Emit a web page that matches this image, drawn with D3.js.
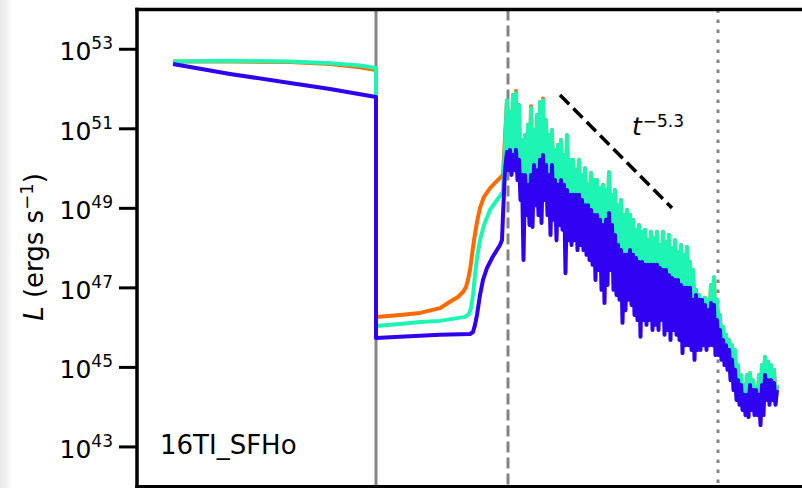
<!DOCTYPE html>
<html><head><meta charset="utf-8">
<script src="https://cdn.jsdelivr.net/npm/d3@7"></script>
<style>body{margin:0;background:#fff}svg{display:block}</style>
</head><body><svg id="c" width="802" height="488"></svg>
<script>
// x data: log10 of time (arbitrary units); y data: log10 of luminance (erg/s)
const yTickExps = [43, 45, 47, 49, 51, 53];
const panelLabel = "16TI_SFHo";
const slopeLabel = "−5.3";
const markerTimes = { solid: 1.195, dashed: 1.855, dotted: 2.905 };
const slopeGuide = [[2.115, 51.85], [2.675, 49.01]];

const orangeT = [0.18,0.465,0.765,0.965,1.115,1.195,1.195,1.315,1.415,1.515,1.565,1.605,1.63,1.645,1.655,1.665,1.675,1.685,1.70,1.715,1.735,1.765,1.80,1.83];
const orangeSmooth = [52.69,52.69,52.68,52.63,52.55,52.48,46.27,46.32,46.37,46.49,46.65,46.77,46.90,47.02,47.20,47.45,47.83,48.20,48.66,49.01,49.29,49.51,49.69,49.84];

const cyanT = [0.18,0.465,0.765,0.965,1.115,1.195,1.195,1.315,1.415,1.515,1.64,1.66,1.67,1.68,1.69,1.70,1.715,1.735,1.765,1.80,1.83];
const cyanSmooth = [52.69,52.71,52.69,52.65,52.59,52.53,46.04,46.09,46.14,46.17,46.27,46.34,46.49,46.82,47.32,47.75,48.20,48.58,48.96,49.21,49.41];

const blueT = [0.18,0.465,0.765,0.965,1.195,1.195,1.315,1.515,1.665,1.68,1.69,1.70,1.715,1.73,1.75,1.775,1.815,1.825,1.83,1.84];
const blueSmooth = [52.63,52.38,52.15,52.00,51.80,45.74,45.77,45.82,45.84,45.89,46.07,46.32,46.82,47.20,47.50,47.75,48.08,48.20,48.83,49.96];

// noisy phase: flicker peaks (on peakT) and troughs (on troughT), interleaved in time
const peakT = [1.85,1.865,1.88,1.895,1.91,1.925,1.94,1.955,1.97,1.985,2.0,2.015,2.03,2.045,2.06,2.075,2.09,2.105,2.12,2.135,2.15,2.165,2.18,2.195,2.21,2.225,2.24,2.255,2.27,2.285,2.3,2.315,2.33,2.345,2.36,2.375,2.39,2.405,2.42,2.435,2.45,2.465,2.48,2.495,2.51,2.525,2.54,2.555,2.57,2.585,2.6,2.615,2.63,2.645,2.66,2.675,2.69,2.705,2.72,2.735,2.75,2.765,2.78,2.795,2.81,2.825,2.84,2.855,2.87,2.885,2.9,2.915,2.93,2.945,2.96,2.975,2.99,3.005,3.02,3.035,3.05,3.065,3.08,3.095,3.11,3.125,3.14,3.155,3.17,3.185,3.2];
const troughT = [1.8575,1.8725,1.8875,1.9025,1.9175,1.9325,1.9475,1.9625,1.9775,1.9925,2.0075,2.0225,2.0375,2.0525,2.0675,2.0825,2.0975,2.1125,2.1275,2.1425,2.1575,2.1725,2.1875,2.2025,2.2175,2.2325,2.2475,2.2625,2.2775,2.2925,2.3075,2.3225,2.3375,2.3525,2.3675,2.3825,2.3975,2.4125,2.4275,2.4425,2.4575,2.4725,2.4875,2.5025,2.5175,2.5325,2.5475,2.5625,2.5775,2.5925,2.6075,2.6225,2.6375,2.6525,2.6675,2.6825,2.6975,2.7125,2.7275,2.7425,2.7575,2.7725,2.7875,2.8025,2.8175,2.8325,2.8475,2.8625,2.8775,2.8925,2.9075,2.9225,2.9375,2.9525,2.9675,2.9825,2.9975,3.0125,3.0275,3.0425,3.0575,3.0725,3.0875,3.1025,3.1175,3.1325,3.1475,3.1625,3.1775,3.1925];

const orangePeak = [
51.72,51.42,51.85,51.95,51.60,50.72,50.84,51.10,51.57,50.97,
51.35,51.67,51.76,51.22,50.84,50.97,50.47,50.59,50.72,50.34,
50.84,50.22,50.22,49.96,50.22,49.84,50.01,49.59,49.89,49.71,
49.71,49.51,49.59,49.46,49.91,49.34,49.46,49.08,49.21,48.83,
48.96,48.83,48.71,48.46,48.58,48.41,48.46,48.20,48.41,48.25,
48.41,48.08,48.41,48.15,48.33,48.00,48.20,47.90,48.08,47.83,
48.03,47.65,47.45,46.95,46.82,46.57,46.75,46.70,47.07,47.27,
46.70,46.32,46.02,45.82,45.69,45.56,45.44,45.06,44.81,44.56,
44.81,44.86,44.68,44.51,44.81,45.06,45.26,45.14,45.06,44.94,
44.56];
const orangeTrough = [
50.09,50.04,50.04,49.91,49.54,49.54,49.29,49.29,49.54,49.66,
49.66,49.91,49.79,49.54,49.54,49.41,49.29,49.29,49.29,49.16,
49.03,49.03,49.03,49.03,48.91,48.78,49.10,48.66,48.53,48.53,
48.41,48.28,48.28,48.41,48.28,48.03,47.78,47.65,47.53,47.53,
47.53,47.53,47.45,47.35,47.35,47.27,47.27,47.27,47.27,47.27,
47.20,47.15,47.15,47.02,46.95,46.90,46.90,46.77,46.70,46.70,
46.70,46.39,46.39,46.39,46.39,46.27,46.14,46.14,46.27,45.89,
45.64,45.39,45.26,45.14,44.88,44.63,44.38,44.26,44.01,44.01,
44.01,44.13,44.13,44.01,44.01,44.26,44.38,44.38,44.31,44.13];

const cyanPeak = [
51.72,51.42,51.85,51.90,51.60,50.72,50.84,51.10,51.52,50.97,
51.35,51.67,51.72,51.22,50.84,50.97,50.47,50.59,50.72,50.34,
50.84,50.22,50.22,49.96,50.22,49.84,50.01,49.59,49.89,49.71,
49.71,49.51,49.59,49.46,49.91,49.34,49.46,49.08,49.21,48.83,
48.96,48.83,48.71,48.46,48.58,48.41,48.46,48.20,48.41,48.25,
48.41,48.08,48.41,48.15,48.33,48.00,48.20,47.90,48.08,47.83,
48.03,47.65,47.45,46.95,46.82,46.57,46.75,46.70,47.07,47.27,
46.70,46.32,46.02,45.82,45.69,45.56,45.44,45.06,44.81,44.56,
44.81,44.86,44.68,44.51,44.81,45.06,45.26,45.14,45.06,44.94,
44.56];
const cyanTrough = [
50.09,50.04,50.04,49.91,49.54,49.54,49.29,49.29,49.54,49.66,
49.66,49.91,49.79,49.54,49.54,49.41,49.29,49.29,49.29,49.16,
49.03,49.03,49.03,49.03,48.91,48.78,48.78,48.66,48.53,48.53,
48.41,48.28,48.28,48.41,48.28,48.03,47.78,47.65,47.53,47.53,
47.53,47.53,47.45,47.35,47.35,47.27,47.27,47.27,47.27,47.27,
47.20,47.15,47.15,47.02,46.95,46.90,46.90,46.77,46.70,46.70,
46.70,46.39,46.39,46.39,46.39,46.27,46.14,46.14,46.27,45.89,
45.64,45.39,45.26,45.14,44.88,44.63,44.38,44.26,44.01,44.01,
44.01,44.13,44.13,44.01,44.01,44.26,44.38,44.38,44.31,44.13];

const bluePeak = [
50.42,50.47,50.34,50.47,50.22,49.84,49.84,49.59,49.84,50.09,
49.96,50.22,50.34,50.09,49.84,50.09,49.71,49.59,49.71,49.59,
49.46,49.34,49.34,49.34,49.34,49.21,49.08,49.08,48.96,48.83,
48.83,48.71,48.58,48.71,48.88,48.58,48.33,48.08,47.95,47.83,
47.83,47.95,47.83,47.75,47.65,47.65,47.58,47.58,47.58,47.58,
47.58,47.50,47.45,47.45,47.32,47.25,47.20,47.20,47.07,47.00,
47.00,47.00,46.70,46.82,46.70,46.70,46.57,46.44,46.62,46.57,
46.19,45.94,45.69,45.56,45.44,45.19,44.94,44.68,44.56,44.31,
44.31,44.56,44.43,44.43,44.31,44.56,44.81,44.68,44.68,44.61,
44.43];
const blueTrough = [
49.96,49.84,49.96,49.71,49.21,47.70,48.83,48.58,48.53,49.08,
48.83,48.63,49.21,48.83,48.33,48.71,48.20,48.58,48.46,47.37,
48.20,48.08,48.20,47.95,48.08,47.95,47.83,47.70,47.58,47.20,
47.45,46.95,46.62,47.07,47.45,46.95,46.82,46.70,46.12,46.44,
46.70,46.57,46.32,46.19,45.77,46.19,46.07,46.19,45.94,46.07,
45.94,46.19,45.82,45.94,45.69,45.94,45.82,45.69,45.36,45.56,
45.56,45.44,45.19,45.44,45.44,45.56,45.44,45.56,45.56,45.31,
45.31,45.19,45.06,44.94,44.68,44.43,44.18,44.06,43.93,43.80,
43.75,43.93,43.80,43.80,43.55,43.80,44.18,44.06,44.18,44.06];

const series = [
  { name: "orange", color: "#ff6a00", t: orangeT, v: orangeSmooth, pv: orangePeak, tv: orangeTrough },
  { name: "cyan",   color: "#1ef5b4", t: cyanT,   v: cyanSmooth,   pv: cyanPeak,   tv: cyanTrough },
  { name: "blue",   color: "#3000f0", t: blueT,   v: blueSmooth,   pv: bluePeak,   tv: blueTrough }
];

const FONT = "DejaVu Sans, Liberation Sans, sans-serif";
const W = 802, H = 488;
const svg = d3.select("#c");

const x = d3.scaleLinear().domain([0, 3.4]).range([137, 817]);
const y = d3.scaleLinear().domain([42, 54]).range([486.7, 9.5]);

// left page shadow strip
const defs = svg.append("defs");
const grad = defs.append("linearGradient").attr("id", "shade").attr("x1", 0).attr("x2", 1);
grad.append("stop").attr("offset", 0).attr("stop-color", "#e9e9e9");
grad.append("stop").attr("offset", 0.6).attr("stop-color", "#f2f2f2");
grad.append("stop").attr("offset", 1).attr("stop-color", "#ffffff");
svg.append("rect").attr("x", 0).attr("y", 0).attr("width", 12).attr("height", H).attr("fill", "url(#shade)");

defs.append("clipPath").attr("id", "plotclip").append("rect")
  .attr("x", x(0)).attr("y", y(54)).attr("width", W - x(0)).attr("height", y(42) - y(54));

const plot = svg.append("g").attr("clip-path", "url(#plotclip)");

// vertical markers
const markers = [
  { t: markerTimes.solid, dash: null },
  { t: markerTimes.dashed, dash: "11,5" },
  { t: markerTimes.dotted, dash: "3.5,6.5" }
];
plot.selectAll("line.marker").data(markers).join("line")
  .attr("class", "marker")
  .attr("x1", d => x(d.t)).attr("x2", d => x(d.t))
  .attr("y1", y(54)).attr("y2", y(42))
  .attr("stroke", "#858585").attr("stroke-width", 3)
  .attr("stroke-dasharray", d => d.dash);

// curves
const line = d3.line().x(d => x(d[0])).y(d => y(d[1]));
series.forEach(s => {
  const noisy = d3.zip(peakT, s.pv).concat(d3.zip(troughT, s.tv)).sort((a, b) => a[0] - b[0]);
  const pts = d3.zip(s.t, s.v).concat(noisy);
  plot.append("path").datum(pts)
    .attr("d", line)
    .attr("fill", "none")
    .attr("stroke", s.color)
    .attr("stroke-width", 4)
    .attr("stroke-linejoin", "round");
});

// slope guide
plot.append("path").datum(slopeGuide)
  .attr("d", line).attr("fill", "none")
  .attr("stroke", "#000").attr("stroke-width", 3.5)
  .attr("stroke-dasharray", "13,6");

const tl = svg.append("text").attr("x", 632).attr("y", 135)
  .attr("font-family", FONT).attr("fill", "#000");
tl.append("tspan").attr("font-size", 25).attr("font-style", "italic").text("t");
tl.append("tspan").attr("font-size", 17).attr("dy", -8).attr("dx", 1).text(slopeLabel);

// spines
svg.append("line").attr("x1", x(0)).attr("x2", x(0)).attr("y1", y(54) - 1.75).attr("y2", H)
  .attr("stroke", "#000").attr("stroke-width", 3.5);
svg.append("line").attr("x1", x(0) - 1.75).attr("x2", W).attr("y1", y(54)).attr("y2", y(54))
  .attr("stroke", "#000").attr("stroke-width", 3.5);
svg.append("line").attr("x1", x(0) - 1.75).attr("x2", W).attr("y1", y(42)).attr("y2", y(42))
  .attr("stroke", "#000").attr("stroke-width", 3.5);

// y ticks
const tk = svg.append("g").selectAll("g").data(yTickExps).join("g");
tk.append("line").attr("x1", x(0) - 18).attr("x2", x(0))
  .attr("y1", d => y(d)).attr("y2", d => y(d))
  .attr("stroke", "#000").attr("stroke-width", 3);
const lab = tk.append("text").attr("x", x(0) - 24).attr("y", d => y(d) + 11)
  .attr("text-anchor", "end").attr("font-family", FONT).attr("fill", "#000");
lab.append("tspan").attr("font-size", 25).text("10");
lab.append("tspan").attr("font-size", 17).attr("dy", -11).text(d => d);

// y label
const yl = svg.append("text").attr("transform", "translate(43,247) rotate(-90)")
  .attr("text-anchor", "middle").attr("font-family", FONT).attr("font-size", 26).attr("fill", "#000");
yl.append("tspan").attr("font-style", "italic").text("L");
yl.append("tspan").text(" (ergs s");
yl.append("tspan").attr("font-size", 18).attr("dy", -10).text("−1");
yl.append("tspan").attr("dy", 10).text(")");

// panel label
svg.append("text").attr("x", 160).attr("y", 454)
  .attr("font-family", FONT).attr("font-size", 26).attr("fill", "#000").text(panelLabel);
</script></body></html>
